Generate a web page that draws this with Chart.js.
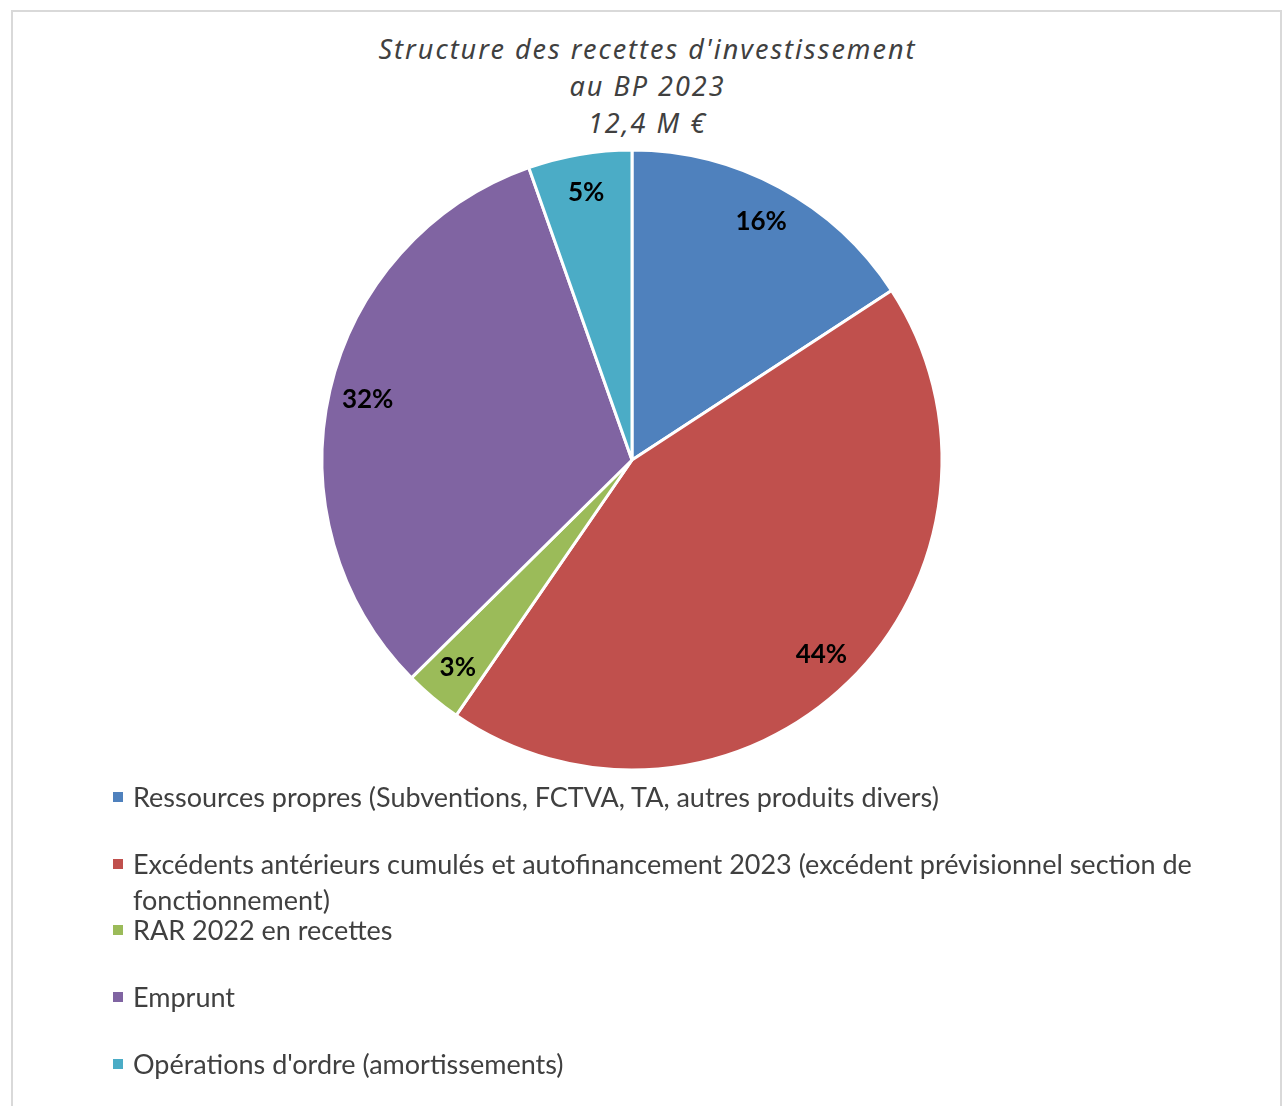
<!DOCTYPE html>
<html>
<head>
    <meta charset="utf-8" />
    <title>Structure des recettes d'investissement</title>
    <style>
        body {
            margin: 0;
            background: #ffffff;
        }

        #frame {
            position: absolute;
            left: 11px;
            top: 10px;
            width: 1271px;
            height: 1120px;
            border: 2px solid #d9d9d9;
            box-sizing: border-box;
        }

        #title {
            position: absolute;
            left: 11px;
            top: 30px;
            width: 1273px;
            text-align: center;
            font-family: "Noto Sans", sans-serif;
            font-style: italic;
            font-size: 27px;
            letter-spacing: 2px;
            line-height: 37px;
            color: #404040;
        }

        #chartBox {
            position: absolute;
            left: 0;
            top: 0;
            width: 1264px;
            height: 780px;
        }

        #legend {
            position: absolute;
            left: 111px;
            top: 779px;
            width: 1130px;
            font-family: Lato, sans-serif;
            font-size: 27px;
            line-height: 36px;
            color: #404040;
        }

        .item {
            position: relative;
            height: 66.7px;
            padding-left: 22px;
        }

        .item span.box {
            position: absolute;
            left: 2px;
            top: 13px;
            width: 10px;
            height: 10px;
        }
    </style>
</head>
<body>
    <div id="frame"></div>
    <div id="title">Structure des recettes d'investissement<br />au BP 2023<br />12,4 M €</div>
    <div id="chartBox">
        <canvas id="pieChart"></canvas>
    </div>
    <div id="legend"></div>

    <script src="https://cdn.jsdelivr.net/npm/chart.js"></script>
    <script>
        // parts of the 12,4 M€ (percent)
        const labels = [
            'Ressources propres (Subventions, FCTVA, TA, autres produits divers)',
            'Excédents antérieurs cumulés et autofinancement 2023 (excédent prévisionnel section de fonctionnement)',
            'RAR 2022 en recettes',
            'Emprunt',
            "Opérations d'ordre (amortissements)"
        ];
        const shares = [15.8, 43.8, 3.0, 32.0, 5.4];
        const colors = ['#4f81bd', '#c0504d', '#9bbb59', '#8064a2', '#4bacc6'];

        // percent labels inside the slices
        const pctLabels = {
            id: 'pctLabels',
            afterDatasetsDraw(chart) {
                const ctx = chart.ctx;
                const data = chart.data.datasets[0].data;
                const total = data.reduce((a, b) => a + b, 0);
                ctx.save();
                ctx.font = 'bold 26px Lato, sans-serif';
                ctx.fillStyle = '#000000';
                ctx.textAlign = 'center';
                ctx.textBaseline = 'middle';
                chart.getDatasetMeta(0).data.forEach((arc, i) => {
                    const p = arc.getProps(['x', 'y', 'startAngle', 'endAngle', 'outerRadius'], true);
                    const mid = (p.startAngle + p.endAngle) / 2;
                    const r = p.outerRadius * 0.875;
                    ctx.fillText(Math.round(data[i] / total * 100) + '%',
                        p.x + Math.cos(mid) * r, p.y + Math.sin(mid) * r);
                });
                ctx.restore();
            }
        };

        const ctx = document.getElementById('pieChart').getContext('2d');
        const chart = new Chart(ctx, {
            type: 'pie',
            data: {
                labels: labels,
                datasets: [{
                    data: shares,
                    backgroundColor: colors,
                    borderColor: '#ffffff',
                    borderWidth: 3,
                    hoverOffset: 0
                }]
            },
            options: {
                responsive: true,
                maintainAspectRatio: false,
                animation: false,
                radius: 310,
                layout: {
                    padding: { top: 150, bottom: 10 }
                },
                plugins: {
                    legend: { display: false },
                    tooltip: { enabled: false }
                }
            },
            plugins: [pctLabels]
        });

        // legend below, with wrapping text
        const legend = document.getElementById('legend');
        labels.forEach((label, i) => {
            const row = document.createElement('div');
            row.className = 'item';
            row.innerHTML = `<span class="box" style="background:${colors[i]}"></span>${label}`;
            legend.appendChild(row);
        });
    </script>
</body>
</html>
